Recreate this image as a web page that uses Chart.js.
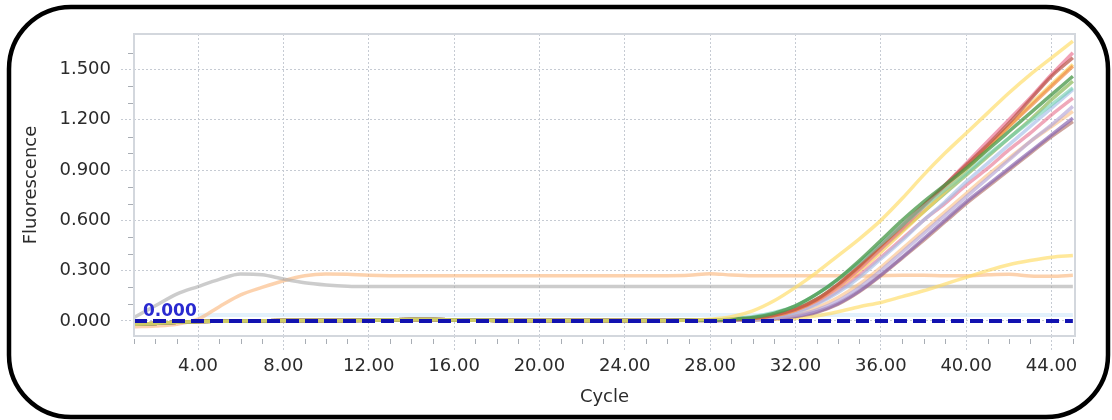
<!DOCTYPE html>
<html>
<head>
<meta charset="utf-8">
<script src="https://cdn.jsdelivr.net/npm/chart.js@4"></script>
<style>
  html, body { margin: 0; padding: 0; background: #fff; }
  #wrap { width: 1112px; height: 420px; }
</style>
</head>
<body>
<div id="wrap"><canvas id="c" width="1112" height="420"></canvas></div>
<script>
// ---- axis data ----
const cycles = Array.from({ length: 45 }, (_, i) => i + 1);
const xMajorTicks = [4, 8, 12, 16, 20, 24, 28, 32, 36, 40, 44];
const yMajorTicks = [0, 0.3, 0.6, 0.9, 1.2, 1.5];
const thresholdValue = 0;

// ---- shared pre-amplification baseline, cycles 1-27 ----
const baselineEarly = [-0.02, -0.015, -0.008, -0.004, -0.002, 0, 0.001, 0.002, 0.002, 0.003,
  0.003, 0.004, 0.006, 0.008, 0.008, 0.006, 0.004, 0.003, 0.002, 0.002,
  0.002, 0.002, 0.002, 0.003, 0.003, 0.003, 0.004];

// ---- amplification phase, cycles 28-45 ----
const yellowHigh  = [0.01, 0.025, 0.06, 0.12, 0.2, 0.29, 0.39, 0.49, 0.6, 0.73, 0.87, 1.0, 1.12, 1.24, 1.36, 1.47, 1.57, 1.67];
const greenA      = [0.005, 0.01, 0.02, 0.045, 0.09, 0.16, 0.25, 0.36, 0.48, 0.6, 0.71, 0.81, 0.91, 1.02, 1.13, 1.24, 1.35, 1.46];
const tealA       = [0.005, 0.012, 0.025, 0.05, 0.09, 0.16, 0.25, 0.35, 0.46, 0.57, 0.68, 0.78, 0.88, 0.99, 1.09, 1.19, 1.29, 1.39];
const redA        = [0.004, 0.008, 0.016, 0.035, 0.07, 0.13, 0.22, 0.33, 0.45, 0.57, 0.69, 0.81, 0.93, 1.05, 1.18, 1.32, 1.46, 1.57];
const orangeA     = [0.004, 0.008, 0.015, 0.03, 0.065, 0.125, 0.215, 0.325, 0.445, 0.565, 0.685, 0.8, 0.92, 1.04, 1.16, 1.28, 1.4, 1.52];
const pinkA       = [0.004, 0.008, 0.015, 0.032, 0.065, 0.12, 0.205, 0.31, 0.43, 0.55, 0.68, 0.81, 0.94, 1.07, 1.2, 1.33, 1.47, 1.6];
const yellowMid   = [0.004, 0.008, 0.016, 0.033, 0.065, 0.12, 0.2, 0.3, 0.41, 0.53, 0.65, 0.77, 0.9, 1.03, 1.16, 1.29, 1.41, 1.53];
const oliveA      = [0.004, 0.008, 0.016, 0.035, 0.07, 0.13, 0.215, 0.32, 0.43, 0.54, 0.65, 0.76, 0.87, 0.98, 1.09, 1.2, 1.32, 1.43];
const blueA       = [0.003, 0.006, 0.012, 0.025, 0.05, 0.1, 0.17, 0.26, 0.37, 0.48, 0.6, 0.71, 0.83, 0.94, 1.05, 1.16, 1.27, 1.38];
const pinkB       = [0.003, 0.006, 0.012, 0.026, 0.055, 0.105, 0.18, 0.275, 0.38, 0.49, 0.6, 0.7, 0.81, 0.91, 1.02, 1.12, 1.23, 1.33];
const lavenderA   = [0.002, 0.004, 0.008, 0.016, 0.033, 0.065, 0.12, 0.2, 0.3, 0.41, 0.52, 0.63, 0.74, 0.85, 0.96, 1.07, 1.17, 1.28];
const lightOrange = [0.002, 0.005, 0.01, 0.02, 0.04, 0.08, 0.14, 0.22, 0.32, 0.43, 0.54, 0.65, 0.76, 0.87, 0.97, 1.07, 1.16, 1.25];
const purpleA     = [0.002, 0.004, 0.007, 0.014, 0.028, 0.055, 0.105, 0.18, 0.275, 0.38, 0.49, 0.6, 0.71, 0.81, 0.91, 1.01, 1.11, 1.21];
const brownA      = [0.002, 0.004, 0.007, 0.013, 0.026, 0.052, 0.1, 0.175, 0.27, 0.375, 0.48, 0.59, 0.7, 0.8, 0.9, 1.0, 1.1, 1.19];
const yellowLow   = [0.002, 0.004, 0.006, 0.01, 0.015, 0.03, 0.055, 0.085, 0.11, 0.145, 0.18, 0.22, 0.26, 0.3, 0.335, 0.36, 0.38, 0.39];

// ---- non-amplifying wells, cycles 1-45 ----
const grayWell = [0.02, 0.09, 0.16, 0.205, 0.248, 0.28, 0.275, 0.25, 0.228, 0.215,
  0.207, 0.205, 0.205, 0.205, 0.205, 0.205, 0.205, 0.205, 0.205, 0.205,
  0.205, 0.205, 0.205, 0.205, 0.205, 0.205, 0.205, 0.205, 0.205, 0.205,
  0.205, 0.205, 0.205, 0.205, 0.205, 0.205, 0.205, 0.205, 0.205, 0.205,
  0.205, 0.205, 0.205, 0.205, 0.205];
const orangeWell = [-0.035, -0.03, -0.02, 0.01, 0.085, 0.155, 0.2, 0.24, 0.27, 0.28,
  0.278, 0.272, 0.27, 0.27, 0.27, 0.27, 0.27, 0.27, 0.27, 0.27,
  0.27, 0.27, 0.27, 0.27, 0.27, 0.27, 0.272, 0.282, 0.274, 0.27,
  0.27, 0.27, 0.27, 0.27, 0.268, 0.27, 0.272, 0.272, 0.27, 0.27,
  0.275, 0.278, 0.268, 0.266, 0.272];
const paleBlueWell = [null, null, null, 0.034, 0.035, 0.035, 0.035, 0.035, 0.035, 0.035,
  0.035, 0.035, 0.035, 0.035, 0.035, 0.035, 0.035, 0.035, 0.035, 0.035,
  0.035, 0.035, 0.035, 0.035, 0.035, 0.035, 0.035, 0.035, 0.035, 0.035,
  0.035, 0.035, 0.035, 0.035, 0.035, 0.035, 0.035, 0.035, 0.035, 0.035,
  0.035, 0.035, 0.035, 0.035, 0.035];
const thresholdLine = cycles.map(() => thresholdValue);

const toPoints = values => values.map((v, i) => ({ x: cycles[i], y: v }));
const amplified = rise => toPoints(baselineEarly.concat(rise));

const curve = (data, color, width) => ({
  data, borderColor: color, borderWidth: width || 3.5, pointRadius: 0,
  cubicInterpolationMode: 'monotone', fill: false
});

const datasets = [
  Object.assign(curve(toPoints(thresholdLine), '#1212b0', 4), { borderDash: [13, 6], order: -1 }),
  curve(amplified(yellowHigh), 'rgba(255,222,110,0.7)'),
  curve(amplified(greenA), 'rgba(70,150,70,0.75)'),
  curve(amplified(tealA), 'rgba(110,205,175,0.6)'),
  curve(amplified(redA), 'rgba(185,80,70,0.7)'),
  curve(amplified(orangeA), 'rgba(240,140,70,0.7)'),
  curve(amplified(pinkA), 'rgba(235,120,150,0.7)'),
  curve(amplified(yellowMid), 'rgba(250,205,90,0.7)'),
  curve(amplified(oliveA), 'rgba(140,185,90,0.7)'),
  curve(amplified(blueA), 'rgba(165,190,232,0.65)'),
  curve(amplified(pinkB), 'rgba(230,110,140,0.6)'),
  curve(amplified(lavenderA), 'rgba(180,165,215,0.65)'),
  curve(amplified(lightOrange), 'rgba(250,190,130,0.6)'),
  curve(amplified(purpleA), 'rgba(140,105,180,0.7)'),
  curve(amplified(brownA), 'rgba(170,100,90,0.6)'),
  curve(amplified(yellowLow), 'rgba(255,220,100,0.65)'),
  curve(toPoints(grayWell), 'rgba(170,170,170,0.6)'),
  curve(toPoints(orangeWell), 'rgba(250,180,120,0.6)'),
  curve(toPoints(paleBlueWell), 'rgba(175,215,245,0.35)', 4)
];

const font18 = { family: 'DejaVu Sans', size: 18 };
const gridStyle = {
  color: '#c6cbd3', lineWidth: 1, borderDash: [2, 2],
  tickColor: '#c6cbd3', tickBorderDash: [2, 2]
};

// frame, plot border, minor ticks and threshold label
const chrome = {
  id: 'chrome',
  beforeDraw(chart) {
    const ctx = chart.ctx;
    ctx.save();
    ctx.fillStyle = '#fff';
    ctx.fillRect(0, 0, chart.width, chart.height);
    ctx.restore();
  },
  afterDraw(chart) {
    const { ctx, chartArea: a, scales: { x, y } } = chart;
    ctx.save();
    // plot border
    ctx.strokeStyle = '#d3d7dd';
    ctx.lineWidth = 2;
    ctx.strokeRect(a.left, a.top, a.right - a.left, a.bottom - a.top);
    // minor ticks
    ctx.strokeStyle = '#a8adb4';
    ctx.lineWidth = 1;
    ctx.beginPath();
    cycles.forEach(c => {
      if (c % 4 === 0) return;
      const px = Math.round(x.getPixelForValue(c)) + 0.5;
      ctx.moveTo(px, a.bottom + 3);
      ctx.lineTo(px, a.bottom + 8);
    });
    for (let k = 1; k <= 16; k++) {
      if (k % 3 === 0) continue;
      const py = Math.round(y.getPixelForValue(k / 10)) + 0.5;
      ctx.moveTo(a.left - 6, py);
      ctx.lineTo(a.left - 1, py);
    }
    ctx.stroke();
    // threshold label
    ctx.fillStyle = '#2a2ad0';
    ctx.font = 'bold 17px "DejaVu Sans"';
    ctx.textAlign = 'left';
    ctx.textBaseline = 'alphabetic';
    ctx.fillText(thresholdValue.toFixed(3), a.left + 9, y.getPixelForValue(thresholdValue) - 5);
    // outer rounded frame
    ctx.strokeStyle = '#000';
    ctx.lineWidth = 4.5;
    ctx.beginPath();
    ctx.roundRect(9, 7, 1099, 410, 62);
    ctx.stroke();
    ctx.restore();
  }
};

new Chart(document.getElementById('c'), {
  type: 'line',
  data: { datasets },
  plugins: [chrome],
  options: {
    responsive: false,
    devicePixelRatio: 1,
    animation: false,
    events: [],
    layout: { padding: { top: 34, right: 37, left: 0, bottom: 0 } },
    plugins: { legend: { display: false }, tooltip: { enabled: false } },
    scales: {
      x: {
        type: 'linear', min: 1, max: 45.1,
        afterBuildTicks: s => { s.ticks = xMajorTicks.map(v => ({ value: v })); },
        afterFit: s => { s.height = 84; },
        ticks: { font: font18, color: '#2b2b2b', padding: 6, maxRotation: 0, autoSkip: false,
                 callback: v => Number(v).toFixed(2) },
        grid: Object.assign({ tickLength: 14 }, gridStyle),
        border: { display: false, dash: [2, 2] },
        title: { display: true, text: 'Cycle', font: font18, color: '#2b2b2b', padding: { top: 0, bottom: 12 } }
      },
      y: {
        type: 'linear', min: -0.09, max: 1.712,
        afterBuildTicks: s => { s.ticks = yMajorTicks.map(v => ({ value: v })); },
        afterFit: s => { s.width = 134; },
        ticks: { font: font18, color: '#2b2b2b', padding: 10,
                 callback: v => Number(v).toFixed(3) },
        grid: Object.assign({ tickLength: 13 }, gridStyle),
        border: { display: false, dash: [2, 2] },
        title: { display: true, text: 'Fluorescence', font: font18, color: '#2b2b2b', padding: { top: 21, bottom: 0 } }
      }
    }
  }
});
</script>
</body>
</html>
